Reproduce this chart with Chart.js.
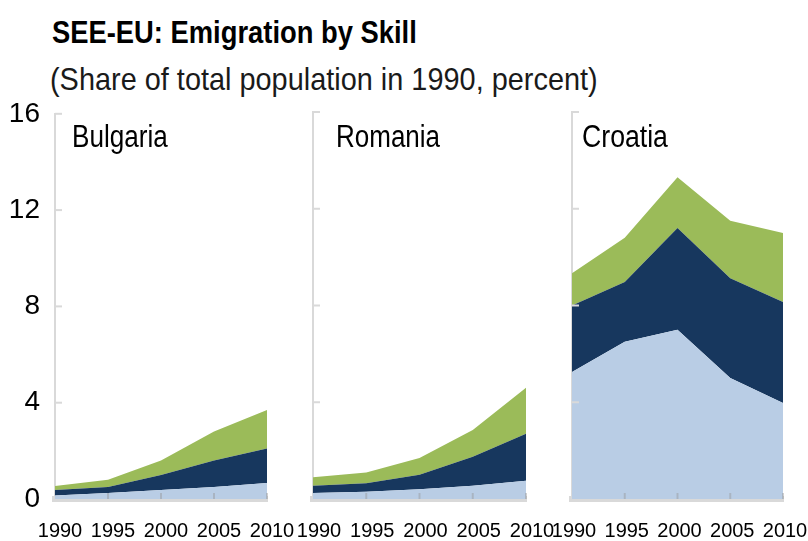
<!DOCTYPE html>
<html>
<head>
<meta charset="utf-8">
<script src="https://cdn.jsdelivr.net/npm/chart.js@4"></script>
<style>
  body { margin: 0; background: #fff; }
  #wrap { position: relative; width: 808px; height: 541px; overflow: hidden; }
  canvas { position: absolute; }
  .txt { position: absolute; white-space: nowrap; font-family: "Liberation Sans", Arial, sans-serif;
         font-size: 31px; line-height: 31px; color: #000; transform-origin: left top; }
</style>
</head>
<body>
<div id="wrap">
  <div class="txt" style="left:52px;top:16px;font-size:32px;line-height:32px;font-weight:bold" data-w="365">SEE-EU: Emigration by Skill</div>
  <div class="txt" style="left:50px;top:63px;font-size:32px;line-height:32px;color:#1a1a1a" data-w="548">(Share of total population in 1990, percent)</div>
  <canvas id="c1" style="left:0;top:90px"></canvas>
  <canvas id="c2" style="left:288px;top:90px"></canvas>
  <canvas id="c3" style="left:547px;top:90px"></canvas>
  <div class="txt" style="left:72px;top:121px" data-w="96">Bulgaria</div>
  <div class="txt" style="left:336px;top:121px" data-w="104">Romania</div>
  <div class="txt" style="left:582px;top:121px" data-w="86">Croatia</div>
</div>
<script>
const years = ["1990", "1995", "2000", "2005", "2010"];
const yTicks = [0, 4, 8, 12, 16];
const skills = ["Low skill", "Medium skill", "High skill"];
const skillColors = ["#B9CDE5", "#17375E", "#9BBB59"];

// share of 1990 population, percent, per skill group (stacked)
const bulgariaLow = [0.15, 0.25, 0.37, 0.5, 0.66];
const bulgariaMid = [0.22, 0.25, 0.63, 1.1, 1.44];
const bulgariaHigh = [0.17, 0.3, 0.6, 1.2, 1.6];

const romaniaLow = [0.25, 0.3, 0.4, 0.55, 0.75];
const romaniaMid = [0.3, 0.35, 0.6, 1.2, 1.95];
const romaniaHigh = [0.35, 0.45, 0.7, 1.1, 1.9];

const croatiaLow = [5.25, 6.5, 7.0, 5.0, 3.97];
const croatiaMid = [2.75, 2.47, 4.2, 4.13, 4.17];
const croatiaHigh = [1.33, 1.83, 2.1, 2.37, 2.86];

const font = "'Liberation Sans', Arial, sans-serif";

document.querySelectorAll("[data-w]").forEach(e => {
  e.style.transform = `scaleX(${e.dataset.w / e.offsetWidth})`;
});

const innerTicks = {
  id: "innerTicks",
  afterDatasetsDraw(chart) {
    const { ctx, chartArea: a, scales: { x, y } } = chart;
    ctx.save();
    ctx.lineWidth = 2;
    ctx.strokeStyle = "#D9D9D9";
    y.ticks.forEach(t => {
      if (!t.value) return;
      const py = y.getPixelForValue(t.value);
      ctx.beginPath();
      ctx.moveTo(a.left, py);
      ctx.lineTo(a.left + 7, py);
      ctx.stroke();
    });
    ctx.strokeStyle = "rgba(150,150,150,0.45)";
    x.ticks.forEach((t, i) => {
      if (!i) return;
      const px = x.getPixelForTick(i);
      ctx.beginPath();
      ctx.moveTo(px, a.bottom);
      ctx.lineTo(px, a.bottom - 6);
      ctx.stroke();
    });
    ctx.restore();
  }
};

function makeChart(id, width, series, yWidth, padRight, showY, labelShift) {
  const canvas = document.getElementById(id);
  canvas.width = width;
  canvas.height = 451;
  return new Chart(canvas, {
    type: "line",
    data: {
      labels: years,
      datasets: series.map((values, i) => ({
        label: skills[i],
        data: values,
        backgroundColor: skillColors[i],
        borderWidth: 0,
        pointRadius: 0,
        fill: i ? "-1" : "origin",
        tension: 0
      }))
    },
    options: {
      responsive: false,
      animation: false,
      layout: { padding: { top: 22, right: padRight, left: 0, bottom: 0 } },
      plugins: { legend: { display: false }, tooltip: { enabled: false } },
      scales: {
        x: {
          grid: { display: true, drawOnChartArea: false, drawTicks: true, tickLength: 18, color: "rgba(0,0,0,0)" },
          border: { color: "#D9D9D9", width: 6 },
          ticks: { color: "#000", font: { family: font, size: 20 }, padding: 2, labelOffset: labelShift,
                   maxRotation: 0, autoSkip: false },
          afterFit: s => { s.height = 42; }
        },
        y: {
          stacked: true,
          min: 0,
          max: 16,
          z: 1,
          afterBuildTicks: s => { s.ticks = yTicks.map(v => ({ value: v })); },
          grid: { display: false },
          border: { color: "#D9D9D9", width: 2 },
          ticks: { display: showY, color: "#000", font: { family: font, size: 28 }, padding: 7 },
          afterFit: s => { s.width = yWidth; }
        }
      }
    },
    plugins: [innerTicks]
  });
}

makeChart("c1", 300, [bulgariaLow, bulgariaMid, bulgariaHigh], 55, 33, true, 5);
makeChart("c2", 273, [romaniaLow, romaniaMid, romaniaHigh], 25, 35, false, 6);
makeChart("c3", 261, [croatiaLow, croatiaMid, croatiaHigh], 25, 25, false, 2);
</script>
</body>
</html>
